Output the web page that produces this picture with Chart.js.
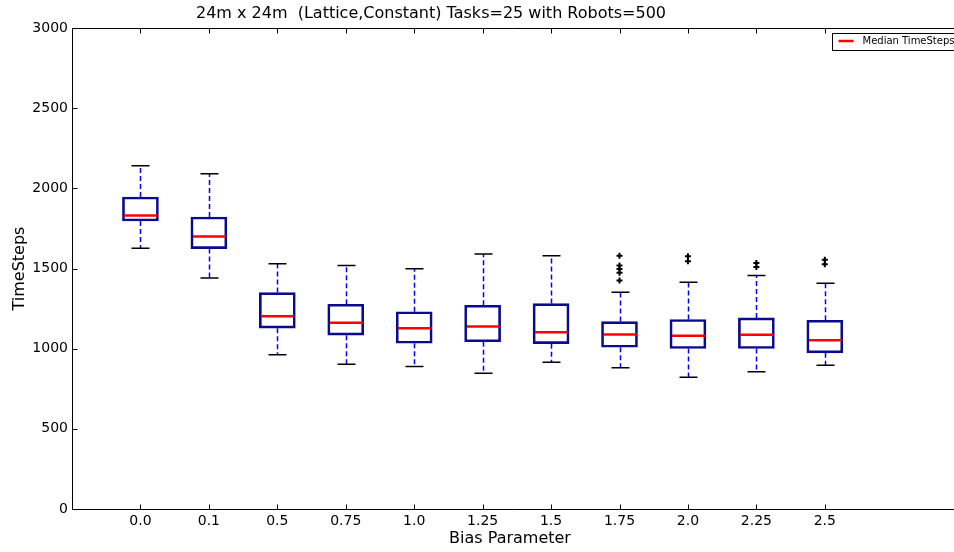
<!DOCTYPE html>
<html>
<head>
<meta charset="utf-8">
<script src="https://cdn.jsdelivr.net/npm/chart.js@4.4.1/dist/chart.umd.min.js"></script>
<style>
    html, body { margin: 0; padding: 0; background: #fff; overflow: hidden; }
    canvas { display: block; }
</style>
</head>
<body>
<canvas id="grafico" width="954" height="552"></canvas>
<script>
// valori
var etichette = ['0.0', '0.1', '0.5', '0.75', '1.0', '1.25', '1.5', '1.75', '2.0', '2.25', '2.5'];
var baffoBasso = [1626, 1441, 962, 903, 889, 847, 916, 881, 821, 856, 897];
var quartile1 = [1796, 1624, 1128, 1084, 1034, 1043, 1031, 1009, 1001, 1001, 974];
var mediana = [1831, 1700, 1202, 1161, 1128, 1138, 1103, 1088, 1080, 1087, 1053];
var quartile3 = [1946, 1821, 1350, 1277, 1230, 1271, 1281, 1169, 1182, 1192, 1177];
var baffoAlto = [2141, 2091, 1529, 1518, 1499, 1591, 1580, 1352, 1414, 1456, 1408];
var anomali = [[], [], [], [], [], [], [], [1580, 1518, 1497, 1473, 1425], [1576, 1545], [1535, 1510], [1555, 1526]];
var tickY = [0, 500, 1000, 1500, 2000, 2500, 3000];

var titolo = '24m x 24m  (Lattice,Constant) Tasks=25 with Robots=500';
var font = "'DejaVu Sans', sans-serif";

// scatole come barre fluttuanti
var scatole = [];
for (var i = 0; i < etichette.length; i++) {
    scatole.push({x: i + 1, y: [quartile1[i], quartile3[i]]});
}
var puntiAnomali = [];
for (var i = 0; i < anomali.length; i++) {
    for (var j = 0; j < anomali[i].length; j++) {
        puntiAnomali.push({x: i + 1, y: anomali[i][j]});
    }
}

// baffi, tappi e mediane
var disegnaBaffi = {
    id: 'baffi',
    afterDatasetsDraw: function(chart) {
        var ctx = chart.ctx;
        var sx = chart.scales.x;
        var sy = chart.scales.y;
        var mezzo = 17.5;
        ctx.save();
        for (var i = 0; i < etichette.length; i++) {
            var cx = Math.round(sx.getPixelForValue(i + 1)) + 0.5;
            // baffi tratteggiati
            ctx.strokeStyle = '#0000ff';
            ctx.lineWidth = 1.5;
            ctx.setLineDash([5, 3]);
            ctx.beginPath();
            ctx.moveTo(cx, sy.getPixelForValue(quartile3[i]));
            ctx.lineTo(cx, sy.getPixelForValue(baffoAlto[i]));
            ctx.moveTo(cx, sy.getPixelForValue(quartile1[i]));
            ctx.lineTo(cx, sy.getPixelForValue(baffoBasso[i]));
            ctx.stroke();
            ctx.setLineDash([]);
            // tappi
            ctx.strokeStyle = '#000000';
            ctx.lineWidth = 1.5;
            ctx.beginPath();
            ctx.moveTo(cx - 9, sy.getPixelForValue(baffoAlto[i]));
            ctx.lineTo(cx + 9, sy.getPixelForValue(baffoAlto[i]));
            ctx.moveTo(cx - 9, sy.getPixelForValue(baffoBasso[i]));
            ctx.lineTo(cx + 9, sy.getPixelForValue(baffoBasso[i]));
            ctx.stroke();
            // mediana
            ctx.strokeStyle = '#ff0000';
            ctx.lineWidth = 2.5;
            ctx.beginPath();
            ctx.moveTo(cx - mezzo + 1, sy.getPixelForValue(mediana[i]));
            ctx.lineTo(cx + mezzo - 1, sy.getPixelForValue(mediana[i]));
            ctx.stroke();
        }
        ctx.restore();
    }
};

// cornice, tacche interne, titolo e legenda
var disegnaCornice = {
    id: 'cornice',
    afterDraw: function(chart) {
        var ctx = chart.ctx;
        var a = chart.chartArea;
        var sx = chart.scales.x;
        var sy = chart.scales.y;
        var sinistra = Math.round(a.left) + 0.5;
        var alto = Math.round(a.top) + 0.5;
        var basso = Math.round(a.bottom) + 0.5;
        ctx.save();
        ctx.strokeStyle = '#000';
        ctx.lineWidth = 1;
        // il bordo destro resta fuori dalla pagina
        ctx.beginPath();
        ctx.moveTo(chart.width, alto);
        ctx.lineTo(sinistra, alto);
        ctx.lineTo(sinistra, basso);
        ctx.lineTo(chart.width, basso);
        for (var i = 0; i < etichette.length; i++) {
            var x = Math.round(sx.getPixelForValue(i + 1)) + 0.5;
            ctx.moveTo(x, basso);
            ctx.lineTo(x, basso - 5);
            ctx.moveTo(x, alto);
            ctx.lineTo(x, alto + 5);
        }
        for (var k = 0; k < tickY.length; k++) {
            var y = Math.round(sy.getPixelForValue(tickY[k])) + 0.5;
            ctx.moveTo(sinistra, y);
            ctx.lineTo(sinistra + 5, y);
        }
        ctx.stroke();

        // titolo
        ctx.fillStyle = '#000';
        ctx.font = '16px ' + font;
        ctx.textAlign = 'center';
        ctx.textBaseline = 'middle';
        ctx.fillText(titolo, 431, 14);

        // legenda
        var lx = 832.5, ly = 33.5;
        ctx.fillStyle = '#fff';
        ctx.fillRect(lx, ly, 140, 17);
        ctx.strokeStyle = '#000';
        ctx.lineWidth = 1;
        ctx.strokeRect(lx, ly, 140, 17);
        ctx.strokeStyle = '#ff0000';
        ctx.lineWidth = 2.5;
        ctx.beginPath();
        ctx.moveTo(lx + 6, ly + 7.5);
        ctx.lineTo(lx + 21, ly + 7.5);
        ctx.stroke();
        ctx.fillStyle = '#000';
        ctx.font = '10px ' + font;
        ctx.textAlign = 'left';
        ctx.fillText(chart.data.datasets[2].label, lx + 30, ly + 8);
        ctx.restore();
    }
};

var ctx = document.getElementById('grafico');
var chart = new Chart(ctx, {
    type: 'bar',
    data: {
        datasets: [{
            label: 'Box',
            data: scatole,
            backgroundColor: 'rgba(255,255,255,0)',
            borderColor: '#0a0a90',
            borderWidth: 2,
            borderSkipped: false,
            barThickness: 36,
            order: 2
        }, {
            type: 'scatter',
            label: 'Fliers',
            data: puntiAnomali,
            pointStyle: 'cross',
            pointRadius: 3,
            borderColor: '#000',
            borderWidth: 2,
            backgroundColor: '#000',
            order: 1
        }, {
            type: 'scatter',
            label: 'Median TimeSteps',
            data: [],
            borderColor: '#ff0000'
        }]
    },
    plugins: [disegnaBaffi, disegnaCornice],
    options: {
        responsive: false,
        animation: false,
        layout: { padding: { top: 28, right: 0, bottom: 0, left: 0 } },
        plugins: {
            legend: { display: false },
            tooltip: { enabled: false },
            title: { display: false }
        },
        scales: {
            x: {
                type: 'linear',
                offset: false,
                min: 0,
                max: 12.8,
                afterBuildTicks: function(scale) {
                    scale.ticks = etichette.map(function(e, i) { return {value: i + 1}; });
                },
                afterFit: function(scale) {
                    scale.height = 43;
                    scale.paddingLeft = 0;
                    scale.paddingRight = 0;
                },
                grid: { display: false, drawTicks: false },
                border: { display: false },
                ticks: {
                    autoSkip: false,
                    maxRotation: 0,
                    color: '#000',
                    padding: 4,
                    font: { family: font, size: 14 },
                    callback: function(v) { return etichette[v - 1]; }
                },
                title: {
                    display: true,
                    text: 'Bias Parameter',
                    color: '#000',
                    padding: { top: 0, bottom: 4 },
                    font: { family: font, size: 16 }
                }
            },
            y: {
                min: 0,
                max: 3000,
                afterBuildTicks: function(scale) {
                    scale.ticks = tickY.map(function(v) { return {value: v}; });
                },
                afterFit: function(scale) {
                    scale.width = 72;
                    scale.paddingTop = 0;
                    scale.paddingBottom = 0;
                },
                grid: { display: false, drawTicks: false },
                border: { display: false },
                ticks: {
                    color: '#000',
                    padding: 4,
                    font: { family: font, size: 14 },
                    callback: function(v) { return String(v); }
                },
                title: {
                    display: true,
                    text: 'TimeSteps',
                    color: '#000',
                    padding: { top: 10, bottom: 0 },
                    font: { family: font, size: 16 }
                }
            }
        }
    }
});
</script>
</body>
</html>
